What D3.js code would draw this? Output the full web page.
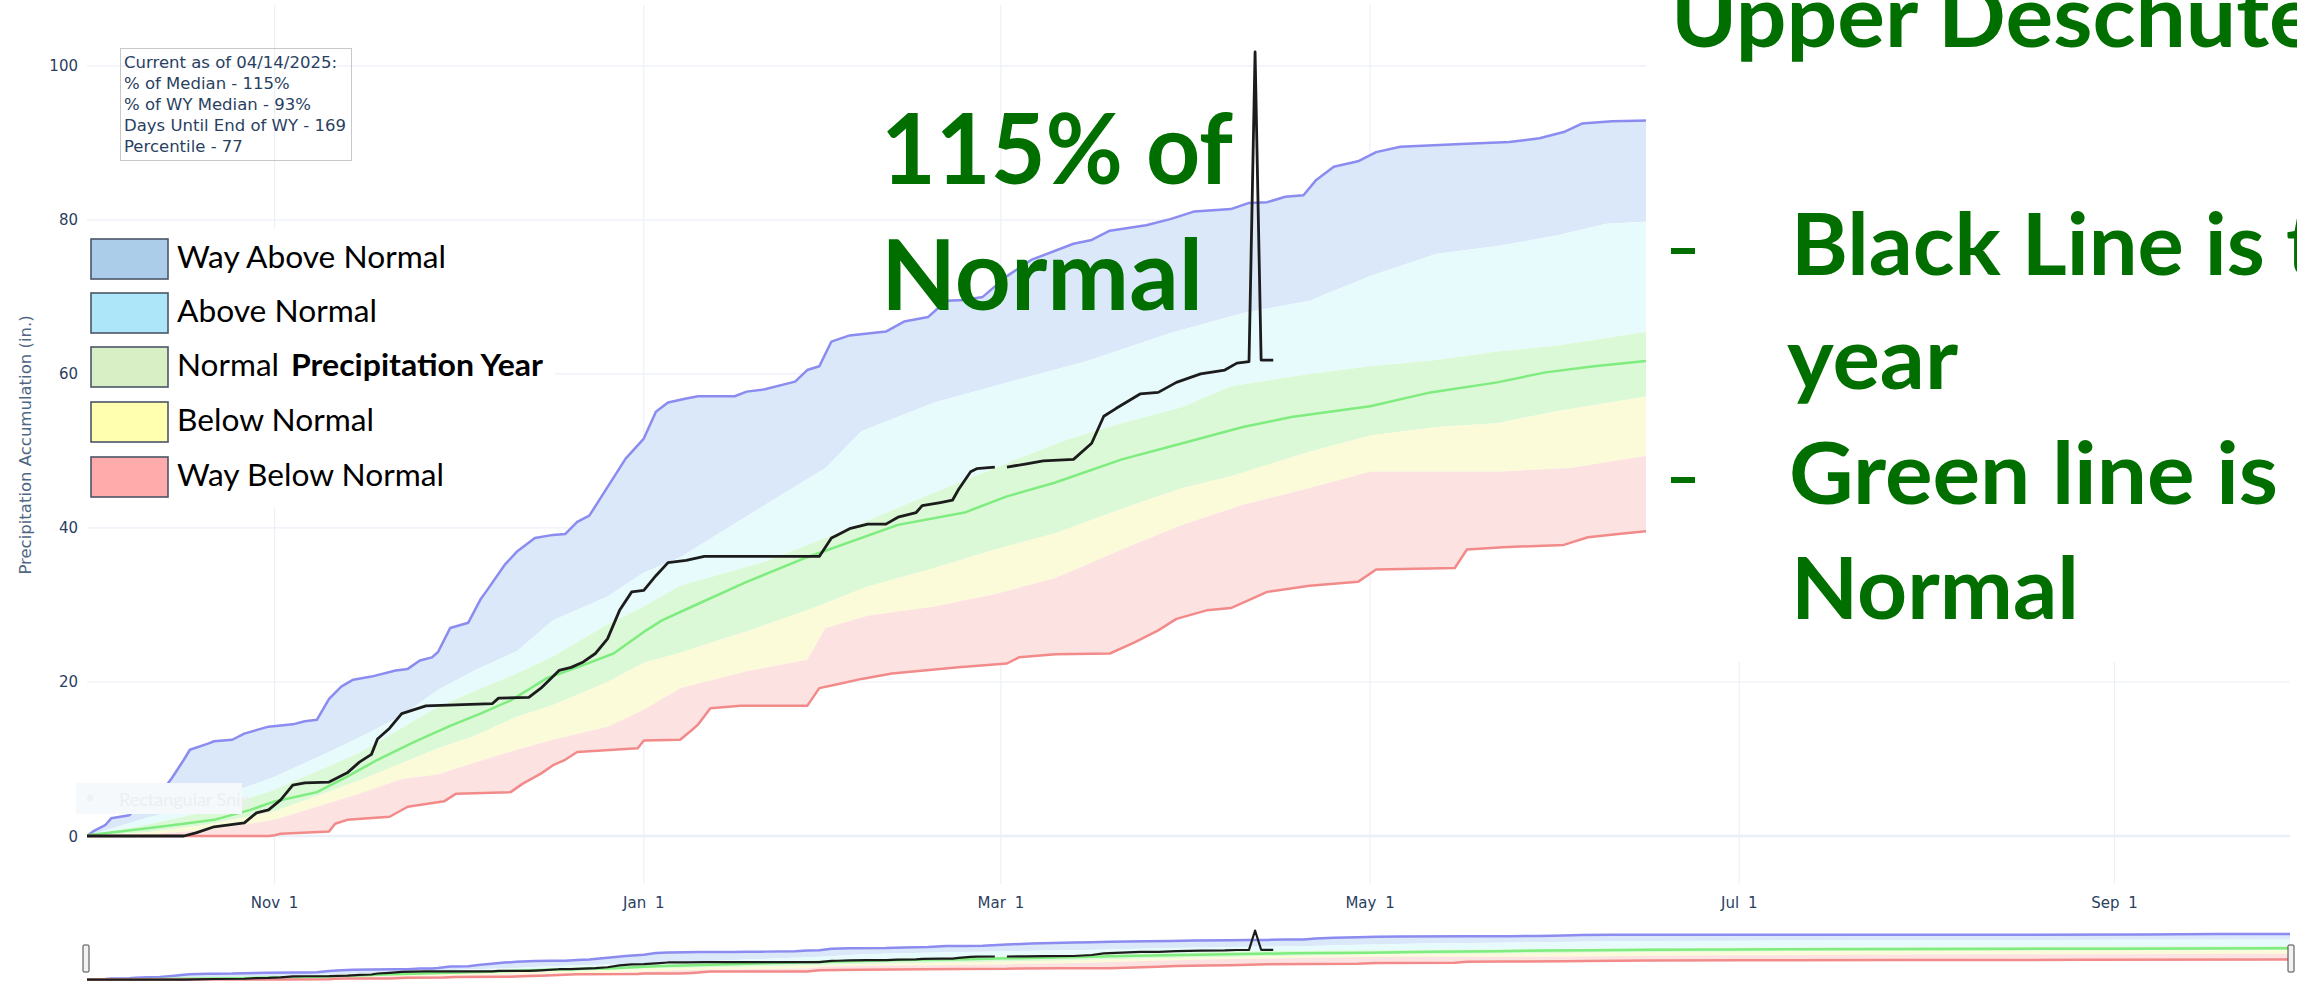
<!DOCTYPE html>
<html>
<head>
<meta charset="utf-8">
<script src="https://cdn.jsdelivr.net/npm/d3@7"></script>
<style>
  body { margin: 0; background: #fff; }
  svg { display: block; }
</style>
</head>
<body>
<div id="chart"></div>
<script>
// every series is [day of water year (0 = Oct 1 2024), inches]
var maxSeries = [[0,0],[1,0.6],[3,1.4],[4,2.3],[7,2.7],[8,3.6],[10,4.6],[12,5.4],[14,7.5],[16,9.9],[17,11.2],[20,12.0],[21,12.3],[24,12.5],[26,13.3],[30,14.2],[34,14.5],[36,14.9],[38,15.1],[40,17.8],[42,19.4],[44,20.3],[47,20.7],[51,21.5],[53,21.7],[55,22.8],[57,23.2],[58,23.9],[60,27.0],[63,27.7],[65,30.7],[66,31.8],[69,35.2],[71,36.9],[74,38.7],[77,39.1],[79,39.2],[81,40.8],[83,41.6],[86,45.3],[89,49.0],[92,51.6],[94,55.1],[96,56.3],[99,56.8],[101,57.1],[107,57.1],[109,57.7],[112,58.0],[117,59.0],[119,60.5],[121,61.0],[123,64.2],[126,65.0],[132,65.5],[135,66.8],[139,67.4],[142,69.5],[145,69.6],[148,70.0],[152,72.7],[156,74.8],[163,76.9],[166,77.4],[169,78.6],[175,79.3],[179,80.1],[183,81.1],[189,81.4],[192,82.2],[195,82.3],[198,83.0],[201,83.2],[203,85.1],[206,86.9],[210,87.6],[213,88.8],[217,89.5],[228,89.9],[235,90.1],[240,90.6],[244,91.4],[247,92.5],[252,92.8],[258,92.9],[273,93.0],[300,93.1],[340,93.3],[352,94.4],[364,94.8]];
var p90Series = [[0,0],[5,1.2],[10,2.4],[20,4.3],[25,6.0],[31,7.7],[38,10.2],[45,12.8],[52,15.6],[58,19.0],[64,21.5],[71,24.0],[77,28.0],[86,31.1],[92,34.2],[98,36.2],[110,42.0],[122,47.8],[128,52.6],[140,56.3],[152,58.9],[165,61.6],[179,65.3],[191,67.9],[202,69.5],[212,72.7],[223,75.6],[233,76.6],[243,78.0],[251,79.5],[258,79.8],[273,80.6],[304,81.8],[335,82.6],[364,83.2]];
var p70Series = [[0,0],[10,1.5],[20,3.2],[31,6.0],[45,10.8],[58,16.8],[64,18.8],[71,21.1],[77,23.3],[86,27.5],[92,29.8],[98,32.5],[112,35.6],[124,39.3],[140,44.6],[150,47.8],[162,51.5],[171,53.6],[181,55.7],[189,58.4],[202,60.0],[212,61.0],[223,61.8],[233,62.9],[243,63.7],[258,65.5],[273,66.5],[304,68.0],[335,69.0],[364,69.8]];
var medSeries = [[0,0.1],[9,0.9],[16,1.6],[21,2.1],[27,3.4],[31,4.5],[34,5.0],[38,5.7],[43,7.7],[48,9.9],[54,12.2],[60,14.3],[65,15.9],[70,17.6],[76,20.5],[81,21.9],[87,23.7],[92,26.5],[95,28.0],[100,29.8],[109,33.0],[119,36.2],[134,40.4],[145,42.0],[152,44.1],[160,45.9],[171,48.9],[181,51.0],[191,53.1],[199,54.4],[212,55.8],[222,57.6],[233,58.9],[241,60.2],[249,61.0],[258,61.7],[273,62.5],[304,63.5],[335,64.2],[364,64.8]];
var p30Series = [[0,0],[10,0.5],[20,1.5],[31,3.2],[45,7.2],[58,11.4],[64,13.0],[71,15.5],[77,17.0],[86,20.0],[92,22.5],[98,23.8],[109,26.6],[119,29.3],[129,32.4],[140,34.8],[150,37.2],[160,39.3],[171,42.5],[181,45.2],[189,46.7],[202,49.9],[212,52.0],[223,53.1],[233,53.6],[243,55.2],[258,57.1],[273,58.0],[304,59.4],[335,60.4],[364,61.0]];
var p10Series = [[0,0],[10,0.2],[20,0.8],[31,2.1],[45,5.5],[52,7.4],[58,8.0],[64,9.5],[71,11.2],[77,12.5],[86,14.2],[92,16.4],[98,19.2],[109,21.4],[119,22.9],[122,27.0],[129,28.6],[140,29.8],[150,31.4],[160,33.5],[171,37.2],[181,40.4],[191,43.0],[202,45.2],[212,47.3],[233,47.3],[245,47.8],[258,49.4],[273,50.4],[304,51.8],[335,52.8],[364,53.5]];
var minSeries = [[0,0],[30,0],[31,0.1],[32,0.3],[40,0.6],[41,1.6],[43,2.1],[50,2.5],[53,3.8],[59,4.5],[61,5.5],[70,5.7],[72,6.8],[75,8.1],[77,9.2],[79,9.9],[81,10.9],[91,11.4],[92,12.4],[98,12.5],[100,13.8],[101,14.5],[103,16.6],[108,16.9],[119,16.9],[121,19.2],[124,19.7],[128,20.4],[133,21.1],[144,21.9],[152,22.4],[154,23.2],[160,23.6],[169,23.7],[173,25.1],[177,26.7],[180,28.2],[185,29.3],[189,29.6],[195,31.7],[202,32.5],[210,33.0],[213,34.6],[226,34.8],[228,37.2],[234,37.5],[244,37.8],[248,38.8],[253,39.2],[258,39.6],[273,40.0],[300,40.5],[330,41.0],[364,41.5]];
// current water year, null = missing day
var wySeries = [[0,0],[16,0],[18,0.4],[21,1.2],[26,1.7],[28,3.0],[30,3.4],[32,4.7],[34,6.6],[36,6.9],[40,7.0],[43,8.2],[45,9.6],[47,10.6],[48,12.6],[50,14.0],[52,15.9],[56,16.9],[67,17.2],[68,17.9],[73,18.0],[75,19.2],[78,21.5],[80,21.9],[82,22.6],[84,23.7],[86,25.6],[88,29.3],[90,31.7],[92,31.9],[94,33.8],[96,35.5],[99,35.8],[102,36.3],[121,36.3],[123,38.7],[124,39.1],[126,39.9],[129,40.5],[132,40.5],[134,41.4],[137,42.0],[138,42.9],[141,43.3],[143,43.6],[144,45.0],[146,47.3],[147,47.7],[150,47.9],[151,null],[152,47.9],[155,48.3],[158,48.7],[163,48.9],[166,51.0],[168,54.5],[170,55.5],[174,57.4],[177,57.6],[180,58.9],[184,60.0],[188,60.5],[190,61.4],[192,61.6],[193,101.8],[194,61.8],[196,61.8]];

var xTicks = ["2024-11-01", "2025-01-01", "2025-03-01", "2025-05-01", "2025-07-01", "2025-09-01"];
var yTicks = [0, 20, 40, 60, 80, 100];
var infoLines = ["Current as of 04/14/2025:", "% of Median - 115%", "% of WY Median - 93%", "Days Until End of WY - 169", "Percentile - 77"];
var legendLabels = ["Way Above Normal", "Above Normal", "Normal", "Below Normal", "Way Below Normal"];

var width = 2297, height = 987;
var green = "#006f00";
var tickFont = "DejaVu Sans, Verdana, sans-serif";
var slideFont = "Lato, Calibri, sans-serif";

var svg = d3.select("#chart").append("svg")
    .attr("width", width)
    .attr("height", height);

var wyStart = new Date(2024, 9, 1);
function toDate(d) { return d3.timeDay.offset(wyStart, d); }
var parseDay = d3.timeParse("%Y-%m-%d");

var x = d3.scaleTime()
    .domain([wyStart, new Date(2025, 8, 30)])
    .range([87, 2290]);
var y = d3.scaleLinear().domain([-6.23, 107.9]).range([884, 5]);
// range slider below the plot
var ys = d3.scaleLinear().domain([-5, 107]).range([982, 928]);

var defs = svg.append("defs");
defs.append("clipPath").attr("id", "plotclip")
    .append("rect").attr("x", 87).attr("y", 5).attr("width", 2203).attr("height", 879);
defs.append("clipPath").attr("id", "sliderclip")
    .append("rect").attr("x", 87).attr("y", 926).attr("width", 2203).attr("height", 60);

//----------------------------------- GRID

var grid = svg.append("g");
yTicks.forEach(function (v) {
    grid.append("line")
        .attr("x1", 87).attr("x2", 2290)
        .attr("y1", y(v)).attr("y2", y(v))
        .attr("stroke", "#ebf0f8")
        .attr("stroke-width", v === 0 ? 2.5 : 1.2);
});
xTicks.forEach(function (t) {
    var xp = x(parseDay(t));
    grid.append("line")
        .attr("x1", xp).attr("x2", xp)
        .attr("y1", 5).attr("y2", 884)
        .attr("stroke", "#ebf0f8").attr("stroke-width", 1.2);
});

//----------------------------------- BANDS AND LINES

var bands = [
    [maxSeries, p90Series, "#d7e6fa"],
    [p90Series, p70Series, "#e6fbfc"],
    [p70Series, p30Series, "#d8f9d4"],
    [p30Series, p10Series, "#fbfbd6"],
    [p10Series, minSeries, "#fde0e0"]
];
var lines = [
    [maxSeries, "#8b8bf0"],
    [medSeries, "#7eec7e"],
    [minSeries, "#f28a8a"]
];

function drawChart(g, yScale, lw, blackW) {
    var line = d3.line()
        .defined(function (p) { return p[1] != null; })
        .x(function (p) { return x(toDate(p[0])); })
        .y(function (p) { return yScale(p[1]); });

    bands.forEach(function (b) {
        var pts = b[0].concat(b[1].slice().reverse());
        g.append("path")
            .attr("d", line(pts) + "Z")
            .attr("fill", b[2])
            .attr("fill-opacity", 0.93)
            .attr("stroke", "none");
    });
    lines.forEach(function (l) {
        g.append("path")
            .attr("d", line(l[0]))
            .attr("fill", "none")
            .attr("stroke", l[1])
            .attr("stroke-width", lw)
            .attr("stroke-linejoin", "round");
    });
    g.append("path")
        .attr("d", line(wySeries))
        .attr("fill", "none")
        .attr("stroke", "#1c1c1c")
        .attr("stroke-width", blackW)
        .attr("stroke-linejoin", "round");
}

drawChart(svg.append("g").attr("clip-path", "url(#plotclip)"), y, 2.5, 2.8);
drawChart(svg.append("g").attr("clip-path", "url(#sliderclip)"), ys, 2.5, 2.2);

// slider handles
[83, 2288].forEach(function (hx) {
    svg.append("rect")
        .attr("x", hx).attr("y", 945)
        .attr("width", 6).attr("height", 27)
        .attr("rx", 1)
        .attr("fill", "#f2f2f2")
        .attr("stroke", "#444").attr("stroke-width", 1);
});

//----------------------------------- AXES LABELS

svg.append("g").selectAll("text")
    .data(xTicks)
    .enter().append("text")
    .attr("x", function (t) { return x(parseDay(t)); })
    .attr("y", 908)
    .attr("text-anchor", "middle")
    .attr("font-family", tickFont)
    .attr("font-size", 15)
    .attr("word-spacing", 4)
    .attr("fill", "#2a3f5f")
    .text(function (t) { return d3.timeFormat("%b %-d")(parseDay(t)); });

svg.append("g").selectAll("text")
    .data(yTicks)
    .enter().append("text")
    .attr("x", 78)
    .attr("y", function (v) { return y(v) + 5.5; })
    .attr("text-anchor", "end")
    .attr("font-family", tickFont)
    .attr("font-size", 15)
    .attr("fill", "#2a3f5f")
    .text(function (v) { return v; });

svg.append("text")
    .attr("transform", "translate(31,445) rotate(-90)")
    .attr("text-anchor", "middle")
    .attr("font-family", tickFont)
    .attr("font-size", 16.5)
    .attr("fill", "#506784")
    .text("Precipitation Accumulation (in.)");

//----------------------------------- INFO BOX

svg.append("rect")
    .attr("x", 120.5).attr("y", 48.5)
    .attr("width", 231).attr("height", 112)
    .attr("fill", "none")
    .attr("stroke", "#c8c8c8").attr("stroke-width", 1);
infoLines.forEach(function (s, i) {
    svg.append("text")
        .attr("x", 124).attr("y", 68 + i * 20.9)
        .attr("font-family", tickFont)
        .attr("font-size", 16.5)
        .attr("fill", "#2a3f5f")
        .text(s);
});

// faint snipping-tool ghost left in the screenshot
svg.append("rect").attr("x", 76).attr("y", 783).attr("width", 166).attr("height", 31)
    .attr("fill", "#f6f9fc");
svg.append("circle").attr("cx", 90).attr("cy", 798).attr("r", 3).attr("fill", "#eef1f5");
svg.append("text").attr("x", 119).attr("y", 806)
    .attr("font-family", slideFont).attr("font-size", 18)
    .attr("fill", "#eceef2").text("Rectangular Snip");

//----------------------------------- SLIDE OVERLAYS

svg.append("rect").attr("x", 1646).attr("y", 0).attr("width", 651).attr("height", 662).attr("fill", "#fff");
svg.append("rect").attr("x", 84).attr("y", 228).attr("width", 471).attr("height", 280).attr("fill", "#fff");

var legendColors = ["#abcdea", "#ade6f8", "#d8efc5", "#ffffaf", "#ffaaab"];
var legendTops = [239, 293, 347, 402, 457];
var legendLens = [269, 200, 102, 197, 267];
legendLabels.forEach(function (lab, i) {
    svg.append("rect")
        .attr("x", 91).attr("y", legendTops[i])
        .attr("width", 77).attr("height", 40)
        .attr("fill", legendColors[i])
        .attr("stroke", "#4b5566").attr("stroke-width", 1.6);
    svg.append("text")
        .attr("x", 177).attr("y", legendTops[i] + 29)
        .attr("font-family", slideFont)
        .attr("font-size", 30)
        .attr("fill", "#000")
        .attr("textLength", legendLens[i])
        .attr("lengthAdjust", "spacingAndGlyphs")
        .text(lab);
});
svg.append("text")
    .attr("x", 291).attr("y", legendTops[2] + 29)
    .attr("font-family", slideFont)
    .attr("font-size", 30)
    .attr("font-weight", 700)
    .attr("fill", "#000")
    .attr("textLength", 252)
    .attr("lengthAdjust", "spacingAndGlyphs")
    .text("Precipitation Year");

function bigText(str, xp, base, size, len) {
    svg.append("text")
        .attr("x", xp).attr("y", base)
        .attr("font-family", slideFont)
        .attr("font-size", size)
        .attr("font-weight", 700)
        .attr("fill", green)
        .attr("textLength", len)
        .attr("lengthAdjust", "spacingAndGlyphs")
        .text(str);
}

bigText("115% of", 881, 184, 98, 352);
bigText("Normal", 881, 310, 98, 322);

bigText("Upper Deschutes", 1671, 47, 87, 685);
bigText("Black Line is this", 1791, 275, 87, 636);
bigText("year", 1787, 389, 87, 171);
bigText("Green line is", 1789, 504, 87, 489);
bigText("Normal", 1791, 619, 87, 288);

[248, 477].forEach(function (dy) {
    svg.append("rect").attr("x", 1671).attr("y", dy)
        .attr("width", 24).attr("height", 6).attr("fill", green);
});

</script>
</body>
</html>
